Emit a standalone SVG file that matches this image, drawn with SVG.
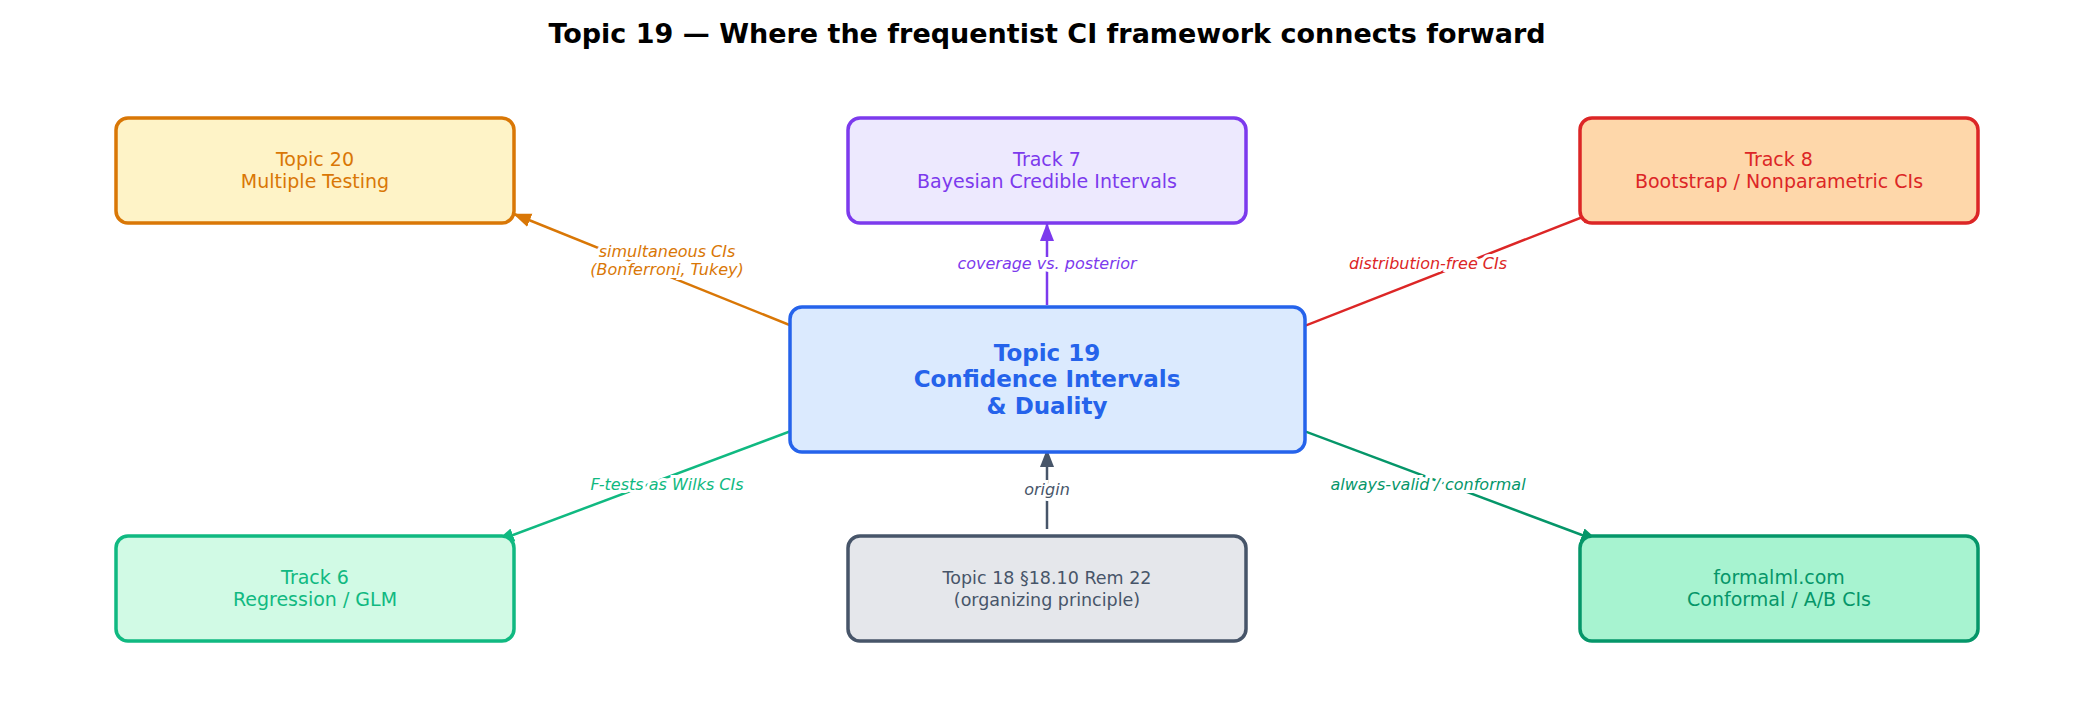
<svg xmlns="http://www.w3.org/2000/svg" width="2095" height="715" viewBox="0 0 2095 715">
<style>
text{font-family:"DejaVu Sans",sans-serif;text-anchor:middle}
.box{stroke-width:3.5}
.t{font-size:19px}
.e{fill:none;stroke-width:2.5}
.l{font-size:16px;font-style:italic}
.bg{fill:#fff;stroke:#fff;stroke-width:6px;paint-order:stroke}
</style>
<defs>
<marker id="mo" viewBox="0 0 10 10" refX="9" refY="5" markerWidth="7" markerHeight="7" orient="auto" markerUnits="userSpaceOnUse" style="overflow:visible"><path d="M0,0L10,5L0,10z" fill="#d97706" transform="scale(1.8) translate(-4,-2.2)"/></marker>
<marker id="mp" viewBox="0 0 18 18" refX="17" refY="9" markerWidth="18" markerHeight="18" orient="auto" markerUnits="userSpaceOnUse"><path d="M0,2L18,9L0,16z" fill="#7c3aed"/></marker>
<marker id="mr" viewBox="0 0 18 18" refX="17" refY="9" markerWidth="18" markerHeight="18" orient="auto" markerUnits="userSpaceOnUse"><path d="M0,2L18,9L0,16z" fill="#dc2626"/></marker>
<marker id="mg" viewBox="0 0 18 18" refX="17" refY="9" markerWidth="18" markerHeight="18" orient="auto" markerUnits="userSpaceOnUse"><path d="M0,2L18,9L0,16z" fill="#10b981"/></marker>
<marker id="ms" viewBox="0 0 18 18" refX="17" refY="9" markerWidth="18" markerHeight="18" orient="auto" markerUnits="userSpaceOnUse"><path d="M0,2L18,9L0,16z" fill="#475569"/></marker>
<marker id="mt" viewBox="0 0 18 18" refX="17" refY="9" markerWidth="18" markerHeight="18" orient="auto" markerUnits="userSpaceOnUse"><path d="M0,2L18,9L0,16z" fill="#059669"/></marker>
<marker id="mo2" viewBox="0 0 18 18" refX="17" refY="9" markerWidth="18" markerHeight="18" orient="auto" markerUnits="userSpaceOnUse"><path d="M0,2L18,9L0,16z" fill="#d97706"/></marker>
</defs>
<rect width="2095" height="715" fill="#fff"/>
<text x="1047" y="43" style="font-size:27px;font-weight:bold" fill="#000">Topic 19 — Where the frequentist CI framework connects forward</text>
<g id="connectors">
<path class="e" d="M839,345L514,214" stroke="#d97706" marker-end="url(#mo2)"/>
<path class="e" d="M1047,305L1047,224" stroke="#7c3aed" marker-end="url(#mp)"/>
<path class="e" d="M1256,345L1598,211" stroke="#dc2626" marker-end="url(#mr)"/>
<path class="e" d="M839,413L497,541" stroke="#10b981" marker-end="url(#mg)"/>
<path class="e" d="M1047,529L1047,450" stroke="#475569" marker-end="url(#ms)"/>
<path class="e" d="M1256,413L1598,541" stroke="#059669" marker-end="url(#mt)"/>
<text class="l bg" x="667" y="257">simultaneous CIs</text>
<text class="l bg" x="667" y="275">(Bonferroni, Tukey)</text>
<text class="l" x="667" y="257" fill="#d97706">simultaneous CIs</text>
<text class="l" x="667" y="275" fill="#d97706">(Bonferroni, Tukey)</text>
<text class="l bg" x="1047" y="269">coverage vs. posterior</text>
<text class="l" x="1047" y="269" fill="#7c3aed">coverage vs. posterior</text>
<text class="l bg" x="1428" y="269">distribution-free CIs</text>
<text class="l" x="1428" y="269" fill="#dc2626">distribution-free CIs</text>
<text class="l bg" x="667" y="490">F-tests as Wilks CIs</text>
<text class="l" x="667" y="490" fill="#10b981">F-tests as Wilks CIs</text>
<text class="l bg" x="1047" y="495">origin</text>
<text class="l" x="1047" y="495" fill="#475569">origin</text>
<text class="l bg" x="1428" y="490">always-valid / conformal</text>
<text class="l" x="1428" y="490" fill="#059669">always-valid / conformal</text>
</g>
<g id="center"><rect class="box" x="790" y="307" width="515" height="145" rx="12" fill="#dbeafe" stroke="#2563eb"/>
<text x="1047" y="361" style="font-size:23px;font-weight:bold" fill="#2563eb">Topic 19</text>
<text x="1047" y="387" style="font-size:23px;font-weight:bold" fill="#2563eb">Confidence Intervals</text>
<text x="1047" y="414" style="font-size:23px;font-weight:bold" fill="#2563eb">&amp; Duality</text></g>
<g id="topic20"><rect class="box" x="116" y="118" width="398" height="105" rx="12" fill="#fef3c7" stroke="#d97706"/>
<text class="t" x="315" y="166" fill="#d97706">Topic 20</text><text class="t" x="315" y="188" fill="#d97706">Multiple Testing</text></g>
<g id="track7"><rect class="box" x="848" y="118" width="398" height="105" rx="12" fill="#ede9fe" stroke="#7c3aed"/>
<text class="t" x="1047" y="166" fill="#7c3aed">Track 7</text><text class="t" x="1047" y="188" fill="#7c3aed">Bayesian Credible Intervals</text></g>
<g id="track8"><rect class="box" x="1580" y="118" width="398" height="105" rx="12" fill="#fed7aa" stroke="#dc2626"/>
<text class="t" x="1779" y="166" fill="#dc2626">Track 8</text><text class="t" x="1779" y="188" fill="#dc2626">Bootstrap / Nonparametric CIs</text></g>
<g id="track6"><rect class="box" x="116" y="536" width="398" height="105" rx="12" fill="#d1fae5" stroke="#10b981"/>
<text class="t" x="315" y="584" fill="#10b981">Track 6</text><text class="t" x="315" y="606" fill="#10b981">Regression / GLM</text></g>
<g id="topic18"><rect class="box" x="848" y="536" width="398" height="105" rx="12" fill="#e5e7eb" stroke="#475569"/>
<text x="1047" y="584" style="font-size:17.5px" fill="#475569">Topic 18 §18.10 Rem 22</text><text x="1047" y="606" style="font-size:17.5px" fill="#475569">(organizing principle)</text></g>
<g id="formalml"><rect class="box" x="1580" y="536" width="398" height="105" rx="12" fill="#a7f3d0" stroke="#059669"/>
<text class="t" x="1779" y="584" fill="#059669">formalml.com</text><text class="t" x="1779" y="606" fill="#059669">Conformal / A/B CIs</text></g>
</svg>
